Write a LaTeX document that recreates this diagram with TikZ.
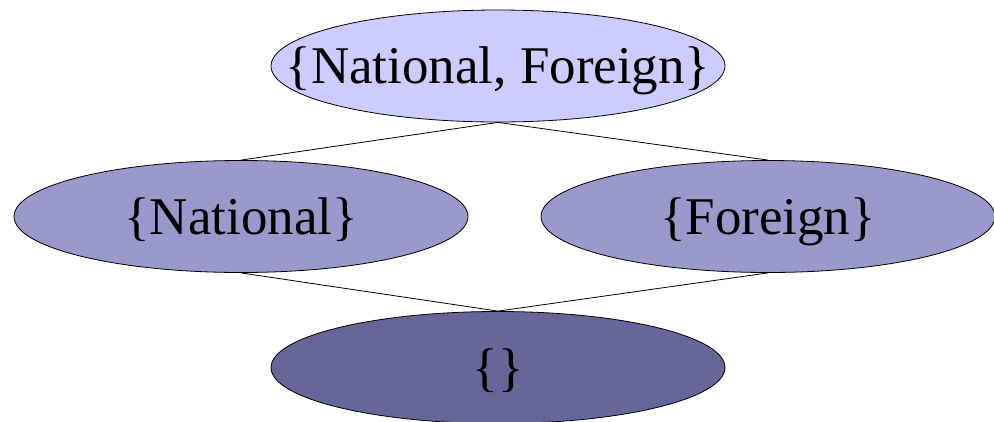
\documentclass[tikz,border=0pt]{standalone}
\usepackage{fontspec}
\setmainfont{Liberation Serif}
\usetikzlibrary{shapes.geometric}
\begin{document}
\begin{tikzpicture}[x=1pt,y=-1pt,
  setnode/.style={ellipse, draw=black, line width=0.8pt, inner sep=0pt,
    minimum width=454pt, minimum height=112pt},
  settext/.style={font=\fontsize{53}{53}\selectfont, inner sep=0pt,
    text height=41pt, text depth=6pt},
  link/.style={draw=black, line width=0.8pt}]
  \useasboundingbox (0,0) rectangle (994,421);
  \node[setnode, fill={rgb,255:red,204;green,204;blue,255}] (both) at (498,66) {};
  \node[setnode, fill={rgb,255:red,153;green,153;blue,204}] (nat) at (241,216.5) {};
  \node[setnode, fill={rgb,255:red,153;green,153;blue,204}] (for) at (768,216.5) {};
  \node[setnode, fill={rgb,255:red,102;green,102;blue,153}] (empty) at (498,367.5) {};
  \node[settext] (bothtext) at (both.center) {\{National, Foreign\}};
  \node[settext] (nattext) at (nat.center) {\{National\}};
  \node[settext] (fortext) at (for.center) {\{Foreign\}};
  \node[settext] (emptytext) at (empty.center) {\{\}};
  \draw[link] (both.south) -- (nat.north);
  \draw[link] (both.south) -- (for.north);
  \draw[link] (nat.south) -- (empty.north);
  \draw[link] (for.south) -- (empty.north);
\end{tikzpicture}
\end{document}
